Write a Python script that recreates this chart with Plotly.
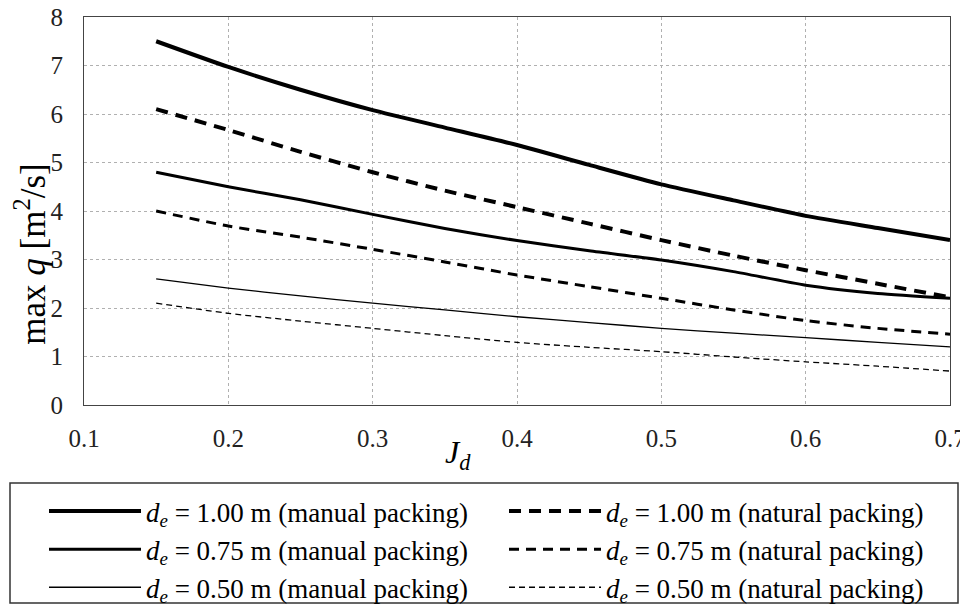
import plotly.graph_objects as go

jd = [0.15, 0.20, 0.25, 0.30, 0.35, 0.40, 0.45, 0.50, 0.55, 0.60, 0.65, 0.70]

q_100_manual = [7.50, 6.97, 6.50, 6.08, 5.72, 5.36, 4.95, 4.55, 4.22, 3.90, 3.65, 3.40]
q_100_natural = [6.10, 5.67, 5.22, 4.80, 4.42, 4.08, 3.74, 3.40, 3.08, 2.78, 2.50, 2.22]
q_075_manual = [4.80, 4.50, 4.23, 3.93, 3.64, 3.39, 3.18, 2.99, 2.75, 2.47, 2.30, 2.20]
q_075_natural = [4.00, 3.69, 3.46, 3.21, 2.95, 2.68, 2.44, 2.20, 1.96, 1.74, 1.58, 1.46]
q_050_manual = [2.60, 2.41, 2.25, 2.10, 1.96, 1.82, 1.70, 1.58, 1.48, 1.39, 1.29, 1.20]
q_050_natural = [2.10, 1.89, 1.73, 1.58, 1.43, 1.29, 1.19, 1.10, 0.99, 0.89, 0.80, 0.70]

x_ticks = [0.1, 0.2, 0.3, 0.4, 0.5, 0.6, 0.7]
y_ticks = [0, 1, 2, 3, 4, 5, 6, 7, 8]

names = [
    "<i>d<sub>e</sub></i> = 1.00 m (manual packing)",
    "<i>d<sub>e</sub></i> = 1.00 m (natural packing)",
    "<i>d<sub>e</sub></i> = 0.75 m (manual packing)",
    "<i>d<sub>e</sub></i> = 0.75 m (natural packing)",
    "<i>d<sub>e</sub></i> = 0.50 m (manual packing)",
    "<i>d<sub>e</sub></i> = 0.50 m (natural packing)",
]
series = [q_100_manual, q_100_natural, q_075_manual, q_075_natural, q_050_manual, q_050_natural]
styles = [
    dict(width=4, dash="12px,8px", solid=True),
    dict(width=4, dash="12px,8px", solid=False),
    dict(width=3, dash="10px,7px", solid=True),
    dict(width=3, dash="10px,7px", solid=False),
    dict(width=1.3, dash="6px,4px", solid=True),
    dict(width=1.3, dash="6px,4px", solid=False),
]

FONT = "Liberation Serif"
fig = go.Figure()
for nm, ys, st in zip(names, series, styles):
    fig.add_trace(go.Scatter(
        x=jd, y=ys, mode="lines", name=nm,
        line=dict(color="black", width=st["width"], dash="solid" if st["solid"] else st["dash"],
                  shape="spline", smoothing=0.6),
    ))

# The page body has an 8px margin; figure is sized so page layout matches.
OFF = 8
W, H = 968 - OFF, 606 - OFF
PL, PR, PT, PB = 84, 950, 17, 405  # plot area in page px


def px_x(px):
    return (px - PL) / float(PR - PL)


def px_y(py):
    return (PB - py) / float(PB - PT)


fig.update_layout(
    width=W, height=H,
    margin=dict(l=PL - OFF, r=W - (PR - OFF), t=PT - OFF, b=H - (PB - OFF), autoexpand=False),
    paper_bgcolor="white", plot_bgcolor="white",
    font=dict(family=FONT, color="black", size=25),
    showlegend=True,
    legend=dict(
        orientation="h", x=px_x(44), xanchor="left", y=px_y(487), yanchor="top",
        bgcolor="rgba(0,0,0,0)", borderwidth=0,
        font=dict(family=FONT, size=27, color="black"),
        entrywidth=353, entrywidthmode="pixels",
        itemwidth=92, tracegroupgap=0,
        traceorder="normal",
    ),
    shapes=[
        dict(type="rect", xref="paper", yref="paper",
             x0=px_x(10), x1=px_x(958), y0=px_y(603), y1=px_y(483),
             line=dict(color="#333", width=1.5), fillcolor="rgba(0,0,0,0)", layer="below"),
    ],
    annotations=[
        dict(text="<i>J<sub>d</sub></i>", x=0.359, y=0, xref="x", yref="paper",
             yshift=-49, showarrow=False, font=dict(family=FONT, size=32, color="black"),
             xanchor="center", yanchor="middle"),
        dict(text="max <i>q</i> [m<sup>2</sup>/s]", xref="paper", yref="y", x=0, y=3.1,
             xshift=-53, textangle=-90, showarrow=False, xanchor="center", yanchor="middle",
             font=dict(family=FONT, size=35, color="black")),
    ],
)
fig.update_xaxes(
    range=[0.1, 0.7], tickvals=x_ticks, ticktext=[f"{v:.1f}" for v in x_ticks],
    showgrid=True, gridcolor="#b0b0b0", griddash="dot", gridwidth=1,
    showline=True, linecolor="#444", linewidth=1, mirror=True,
    ticks="", ticklabelstandoff=11, zeroline=False, ticklabeloverflow="allow",
    tickfont=dict(family=FONT, size=25, color="#222"),
)
fig.update_yaxes(
    range=[0, 8], tickvals=y_ticks,
    showgrid=True, gridcolor="#b0b0b0", griddash="dot", gridwidth=1,
    showline=True, linecolor="#444", linewidth=1, mirror=True,
    ticks="", ticklabelstandoff=15, zeroline=False, ticklabeloverflow="allow",
    tickfont=dict(family=FONT, size=25, color="#222"),
)

fig.write_html("out.html")
